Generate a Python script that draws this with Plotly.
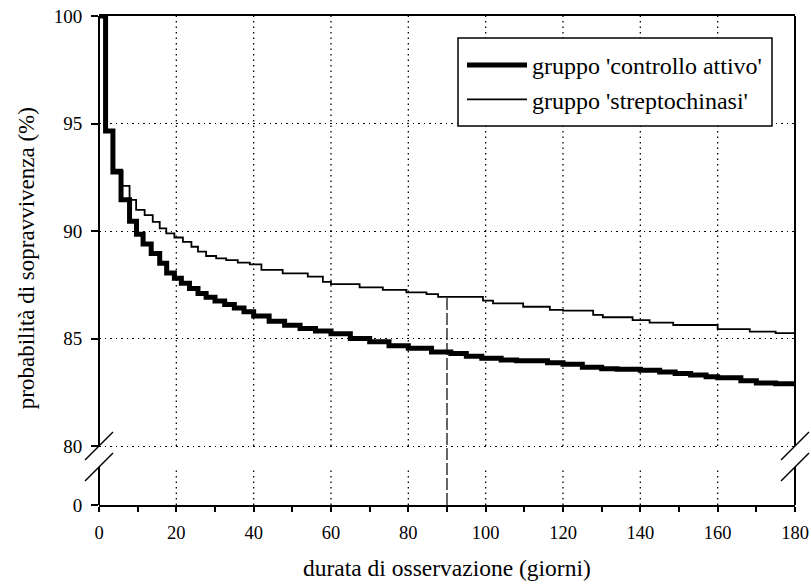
import plotly.graph_objects as go

# --- data (Kaplan-Meier step curves) ---
days_ctrl = [0, 1.7, 3.6, 5.7, 7.9, 9.7, 11.4, 13.5, 15.7, 17.5, 19.5, 21.3, 23.4, 25.6, 27.7,
             30, 32.5, 35, 37.5, 40, 44, 48, 52, 56, 60, 65, 70, 75, 80, 86, 91, 95, 99,
             104, 108, 116, 120, 125, 130, 134, 140, 145, 149, 153, 157, 160, 166, 170, 175, 180]
surv_ctrl = [100, 94.65, 92.75, 91.45, 90.45, 89.85, 89.4, 88.95, 88.5, 88.05, 87.8, 87.57, 87.33,
             87.1, 86.92, 86.75, 86.58, 86.42, 86.25, 86.05, 85.8, 85.62, 85.47, 85.35, 85.22,
             85.0, 84.85, 84.67, 84.55, 84.38, 84.3, 84.18, 84.08, 84.0, 83.97, 83.87, 83.8,
             83.66, 83.6, 83.57, 83.53, 83.45, 83.37, 83.3, 83.22, 83.18, 83.04, 82.93, 82.9, 82.87]

days_strep = [0, 1.7, 3.6, 5.9, 7.9, 9.6, 11.8, 13.9, 15.7, 17.4, 19.5, 21.7, 23.9, 25.6, 27.7,
              30.3, 32.9, 35.9, 39, 42, 47.5, 54, 57.9, 60, 67.4, 73.4, 79.5, 84.7, 87.7,
              99.3, 101.9, 109.7, 116.6, 120, 127.8, 130.3, 138, 142.4, 148.5, 160, 168.3, 175, 180]
surv_strep = [100, 94.65, 92.85, 92.1, 91.45, 90.98, 90.74, 90.43, 90.12, 89.89, 89.7, 89.5, 89.27,
              89.04, 88.84, 88.73, 88.65, 88.53, 88.45, 88.19, 88.03, 87.88, 87.64, 87.53, 87.38,
              87.26, 87.15, 87.07, 86.94, 86.76, 86.64, 86.48, 86.33, 86.3, 86.1, 85.99, 85.86,
              85.74, 85.63, 85.44, 85.32, 85.25, 85.21]

series_names = ["gruppo 'controllo attivo'", "gruppo 'streptochinasi'"]

x_ticks = list(range(0, 181, 10))
x_labels = [str(v) if v % 20 == 0 else "" for v in x_ticks]
x_grid = list(range(20, 161, 20))

y_zero_pos = 77.26          # position standing for 0 below the axis break
y_ticks = [y_zero_pos, 80, 85, 90, 95, 100]
y_labels = ["0", "80", "85", "90", "95", "100"]
y_break = 80
ref_day = 90

# --- styling ---
FONT = "Liberation Serif"
Y_TOP = 100
ML, MR, MT, MB = 99, 16, 16, 80
PLOT_W = 811 - ML - MR
PLOT_H = 585 - MT - MB
PX_PER_UNIT = PLOT_H / (Y_TOP - y_zero_pos)
gap_axis = y_break - 21 / PX_PER_UNIT
gap_grid = y_break - 24 / PX_PER_UNIT


def ypap(v):
    return (v - y_zero_pos) / (Y_TOP - y_zero_pos)


def px_x(p):
    return (p - ML) / PLOT_W


def px_y(p):
    return (585 - MB - p) / PLOT_H


fig = go.Figure()
fig.add_trace(go.Scatter(x=days_ctrl, y=surv_ctrl, mode="lines", name=series_names[0],
                         line=dict(color="black", width=5, shape="hv")))
fig.add_trace(go.Scatter(x=days_strep, y=surv_strep, mode="lines", name=series_names[1],
                         line=dict(color="black", width=1.8, shape="hv")))

shapes = []
dot = "1.5px,4px"
for gx in x_grid:
    shapes.append(dict(type="line", xref="x", yref="y", x0=gx, x1=gx, y0=y_break, y1=Y_TOP,
                       line=dict(color="black", width=1.3, dash=dot), layer="below"))
    shapes.append(dict(type="line", xref="x", yref="y", x0=gx, x1=gx, y0=y_zero_pos, y1=gap_grid,
                       line=dict(color="black", width=1.3, dash=dot), layer="below"))
ref_val = [s for d, s in zip(days_strep, surv_strep) if d <= ref_day][-1]
shapes.append(dict(type="line", xref="x", yref="y", x0=ref_day, x1=ref_day, y0=y_zero_pos, y1=ref_val,
                   line=dict(color="black", width=1.2, dash="12px,3px"), layer="between"))
sx, sy = 14 / PLOT_W, 14 / PLOT_H
for ax_x in (0, 1):
    shapes.append(dict(type="line", xref="paper", yref="paper", x0=ax_x, x1=ax_x,
                       y0=ypap(y_break), y1=1, line=dict(color="black", width=2)))
    shapes.append(dict(type="line", xref="paper", yref="paper", x0=ax_x, x1=ax_x,
                       y0=0, y1=ypap(gap_axis), line=dict(color="black", width=2)))
    for yc in (ypap(y_break), ypap(gap_axis)):
        shapes.append(dict(type="line", xref="paper", yref="paper",
                           x0=ax_x - sx, x1=ax_x + sx, y0=yc - sy, y1=yc + sy,
                           line=dict(color="black", width=1.5)))
# legend frame
shapes.append(dict(type="rect", xref="paper", yref="paper",
                   x0=px_x(458), x1=px_x(772), y0=px_y(126), y1=px_y(38),
                   fillcolor="white", line=dict(color="black", width=1.5), layer="above"))

fig.update_layout(
    width=811, height=585,
    margin=dict(l=ML, r=MR, t=MT, b=MB, autoexpand=False),
    paper_bgcolor="white", plot_bgcolor="white",
    font=dict(family=FONT, color="black", size=19),
    showlegend=True,
    legend=dict(x=px_x(462), y=px_y(82.5), xanchor="left", yanchor="middle",
                bgcolor="rgba(0,0,0,0)", borderwidth=0,
                font=dict(family=FONT, size=24, color="black"), itemwidth=60,
                tracegroupgap=0),
    xaxis=dict(range=[0, 180], tickvals=x_ticks, ticktext=x_labels, ticks="outside",
               ticklen=5, tickwidth=1.5, tickcolor="black", showline=True, linewidth=2,
               linecolor="black", mirror=True, showgrid=False, zeroline=False,
               automargin=False, ticklabelstandoff=5,
               tickfont=dict(family=FONT, size=18.5)),
    yaxis=dict(range=[y_zero_pos, Y_TOP], tickvals=y_ticks, ticktext=y_labels, ticks="outside",
               ticklen=7, tickwidth=1.5, tickcolor="black", showline=False, showgrid=True,
               gridcolor="black", gridwidth=1.3, griddash=dot, zeroline=False,
               automargin=False, ticklabelstandoff=5,
               tickfont=dict(family=FONT, size=19)),
    shapes=shapes,
    annotations=[
        dict(text="durata di osservazione (giorni)", xref="paper", yref="paper", x=0.5, y=0,
             yshift=-63, showarrow=False, font=dict(family=FONT, size=23.5), yanchor="middle"),
        dict(text="probabilità di sopravvivenza (%)", xref="paper", yref="paper", x=-0.104, y=0.504,
             textangle=-90, showarrow=False, font=dict(family=FONT, size=23), xanchor="center"),
    ],
)

fig.write_html("out.html")
